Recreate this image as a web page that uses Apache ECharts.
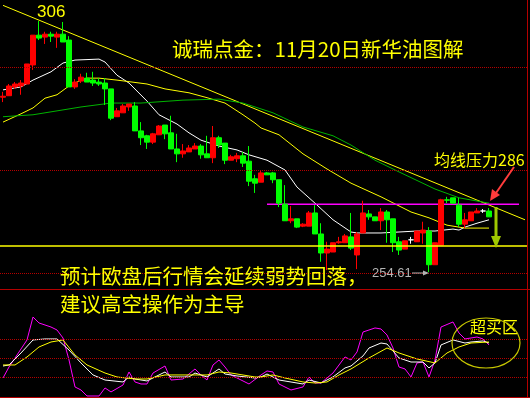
<!DOCTYPE html>
<html><head><meta charset="utf-8">
<script src="https://cdn.jsdelivr.net/npm/echarts/dist/echarts.min.js"></script>
<style>html,body{margin:0;padding:0;background:#000;overflow:hidden}#c{width:530px;height:398px;}</style>
</head><body><div id="c"></div>
<script>
// ---- data ----
const categories = Array.from({length: 88}, (_, i) => String(i + 1));
const opens = [290.4,290.7,292.5,292.7,293.1,297.0,303.1,302.7,303.3,302.7,
303.3,302.1,292.5,293.7,294.3,293.9,293.5,293.3,292.1,286.4,
287.2,288.4,288.6,283.5,282.5,281.2,282.7,284.7,283.1,279.8,
278.8,279.2,279.8,280.4,278.8,278.0,282.1,281.0,277.5,277.8,
278.4,277.3,273.7,273.0,274.9,274.9,273.5,268.5,265.1,265.5,
264.0,264.0,266.7,262.4,258.5,258.7,260.6,260.6,261.8,258.1,
262.6,266.5,265.9,265.1,266.9,265.5,260.8,259.3,261.2,260.8,
262.6,263.0,256.1,260.1,269.4,269.8,268.3,264.4,265.1,266.7,
267.1,267.1];
const closes = [290.6,292.7,293.1,293.3,297.2,303.1,302.5,303.3,302.9,303.3,
301.7,292.5,293.5,294.5,293.5,293.3,293.1,292.1,286.1,287.6,
288.6,289.0,283.5,282.1,281.2,282.9,284.5,282.9,279.8,278.8,
279.4,280.0,280.4,278.6,278.0,282.1,280.6,277.5,278.2,278.4,
276.9,273.2,272.8,274.9,274.5,273.5,268.7,265.1,265.5,263.8,
264.4,266.7,262.4,258.5,259.3,260.6,260.8,262.0,259.5,262.4,
266.7,265.9,265.1,266.9,265.3,260.6,259.1,261.0,261.2,263.0,
263.2,256.1,260.6,269.4,269.3,268.7,264.4,265.3,266.9,267.1,
267.1,265.9];
const lows = [289.4,290.7,292.1,290.9,293.1,296.0,302.1,301.3,301.7,300.5,
301.7,292.5,292.1,293.3,293.5,292.7,292.7,288.8,285.7,286.4,
287.2,287.6,283.5,280.6,279.8,280.8,282.7,281.8,279.8,277.1,
278.0,279.2,279.8,277.8,278.0,276.9,280.0,276.7,277.5,277.1,
276.1,272.2,270.8,273.0,274.5,272.8,267.9,265.1,264.6,263.6,
263.8,264.0,262.4,256.7,255.0,258.7,260.4,260.6,259.1,255.2,
262.6,265.3,265.1,263.2,260.6,258.7,258.1,259.3,260.4,260.8,
260.4,254.61,256.1,260.1,268.7,268.7,263.8,263.6,265.1,266.7,
266.7,265.9];
const highs = [291.5,293.1,293.5,293.9,297.2,303.1,306.0,303.8,303.8,303.8,
305.8,302.9,294.1,295.2,295.4,295.6,294.3,294.3,292.1,288.2,
289.0,289.0,289.4,285.3,282.7,283.1,284.7,284.7,286.6,282.9,
280.8,280.6,281.0,280.8,282.5,284.5,282.5,281.0,278.6,279.0,
279.2,280.4,274.5,275.3,275.1,275.1,273.5,272.4,268.1,265.5,
264.6,267.1,268.3,264.6,260.8,260.6,261.8,262.4,266.7,262.8,
269.2,267.3,265.9,267.7,267.3,265.5,261.8,261.0,261.8,263.0,
264.9,263.8,260.6,269.6,270.0,269.8,269.8,266.7,266.9,267.7,
267.5,267.7];

// moving averages as [candle index, price]
const maWhite = [[0,291.9],[3,292.5],[5,293.9],[8,295.6],[10,297.4],[12,298.0],[16,298.2],[17,297.6],[19,294.9],[21,293.3],[24,289.6],[26,286.8],[29,284.9],[31,283.1],[33,281.6],[35,280.8],[36,280.4],[39,279.6],[41,278.6],[44,277.5],[47,275.5],[49,272.0],[52,268.7],[55,265.3],[58,262.8],[59,262.6],[63,262.6],[69,263.0],[72,263.0],[75,263.4],[76,263.2],[77,263.8],[79,264.6],[81,265.3]];
const maYellow = [[0,285.3],[3,287.0],[5,288.2],[7,290.2],[9,290.9],[11,292.7],[13,293.9],[14,294.3],[16,294.3],[19,293.9],[24,293.1],[27,292.1],[31,291.3],[34,290.3],[37,289.2],[40,286.8],[42,285.1],[43,284.1],[46,282.7],[50,278.8],[54,275.7],[58,272.8],[63,270.0],[68,266.9],[71,265.7],[74,264.2],[77,263.6],[81,263.6]];
const maGreen = [[0,286.4],[5,286.8],[10,287.8],[13,288.4],[18,289.2],[23,289.2],[30,289.8],[36,290.0],[40,289.2],[45,287.2],[50,284.3],[55,282.5],[58,280.6],[62,277.5],[66,275.1],[72,271.6],[76,269.8],[81,268.7]];
const trendLine = [[0,309.2],[87,265.3]];
const resistLine = [[44,268.5],[86,268.5]];
const dottedLevels = [296.6, 275.5, 254.4];
const supportLevel = 259.9;

// lower indicator
const indJ = [[0,18.1],[1,35.5],[4,78.3],[5,114.7],[6,105.2],[8,98.8],[9,94.1],[10,81.4],[11,46.6],[12,3.9],[13,-0.9],[14,-10.4],[16,-10.4],[17,2.3],[18,-4.0],[20,7.0],[21,27.6],[22,11.8],[23,8.6],[24,8.6],[25,26.0],[27,37.1],[28,14.9],[30,16.5],[32,32.4],[33,22.9],[34,14.9],[35,38.7],[36,46.6],[37,35.5],[38,22.9],[41,8.6],[43,22.9],[44,29.2],[45,27.6],[46,8.6],[48,-0.9],[50,3.9],[51,19.7],[52,10.2],[53,10.2],[55,26.0],[57,51.4],[58,46.6],[59,59.3],[60,90.9],[61,94.1],[62,97.3],[63,95.7],[64,86.2],[65,65.6],[66,35.5],[67,32.4],[68,19.7],[69,41.9],[70,43.4],[71,19.7],[72,46.6],[73,98.8],[75,106.8],[76,89.3],[77,79.9],[79,83.0],[80,79.9],[81,70.4]];
const indK = [[0,37.1],[1,38.7],[3,57.7],[5,78.3],[7,79.9],[9,79.9],[11,62.4],[13,41.9],[15,22.9],[17,14.9],[20,11.8],[21,19.7],[22,16.5],[24,13.4],[26,22.9],[27,27.6],[28,19.7],[31,19.7],[32,26.0],[34,19.7],[36,32.4],[37,24.4],[39,21.3],[42,18.1],[43,19.7],[44,24.4],[46,14.9],[50,8.6],[51,14.9],[53,10.2],[55,19.7],[57,34.0],[58,37.1],[60,53.0],[61,65.6],[63,73.5],[64,71.9],[66,49.8],[68,43.4],[70,43.4],[71,34.0],[72,41.9],[73,70.4],[75,78.3],[77,73.5],[78,75.1],[80,76.7],[81,73.5]];
const indD = [[0,38.7],[2,38.7],[4,51.4],[6,67.2],[8,75.1],[10,78.3],[12,54.5],[14,38.7],[17,26.0],[19,19.7],[22,16.5],[24,16.5],[27,22.9],[31,22.9],[34,22.9],[36,27.6],[38,26.0],[42,19.7],[43,19.7],[45,22.9],[47,18.1],[50,11.8],[52,10.2],[54,11.8],[56,22.9],[58,32.4],[61,49.8],[64,65.6],[66,57.7],[69,48.2],[72,41.9],[74,57.7],[76,67.2],[78,73.5],[81,75.1]];
const indLevels = [80, 50, 20];

const titleText = '诚瑞点金：11月20日新华油图解';
const highLabel = '306';
const lowLabel = '254.61';
const maLabel = '均线压力286';
const note1 = '预计欧盘后行情会延续弱势回落，';
const note2 = '建议高空操作为主导';
const zoneLabel = '超买区';

// ---- chart ----
const chart = echarts.init(document.getElementById('c'));
const candleData = opens.map((o, i) => [o, closes[i], lows[i], highs[i]]);
const CJK = '"Noto Sans CJK SC"';
const RED = '#b40000';
const dot = {color: RED, width: 1, type: [1, 1]};

function lineSeries(name, data, color, xi) {
  return {name, type: 'line', data, xAxisIndex: xi, yAxisIndex: xi, symbol: 'none',
    connectNulls: true, silent: true, lineStyle: {color, width: 1}, z: 3};
}

const option = {
  backgroundColor: '#000',
  animation: false,
  grid: [
    {left: 0, width: 528, top: 0, height: 289},
    {left: 0, width: 528, top: 289, height: 108}
  ],
  xAxis: [
    {type: 'category', data: categories, gridIndex: 0, show: false},
    {type: 'category', data: categories, gridIndex: 1, show: false}
  ],
  yAxis: [
    {type: 'value', gridIndex: 0, min: 251.13, max: 310.3, show: false},
    {type: 'value', gridIndex: 1, min: -12, max: 159, show: false}
  ],
  series: [
    {type: 'candlestick', data: candleData, xAxisIndex: 0, yAxisIndex: 0, barWidth: 5, silent: true,
      itemStyle: {color: '#ff0000', color0: '#00ff00', borderColor: '#ff0000', borderColor0: '#00ff00',
        borderColorDoji: '#ffffff', borderWidth: 1},
      markLine: {silent: true, symbol: 'none', label: {show: false},
        data: dottedLevels.map(v => ({yAxis: v, lineStyle: dot}))
          .concat([{yAxis: supportLevel, lineStyle: {color: '#ffff00', width: 1.5, type: 'solid'}}])},
      z: 4},
    lineSeries('trend', trendLine, '#ffff00', 0),
    lineSeries('maWhite', maWhite, '#ffffff', 0),
    lineSeries('maYellow', maYellow, '#ffff00', 0),
    lineSeries('maGreen', maGreen, '#00b400', 0),
    Object.assign(lineSeries('resist', resistLine, '#ff00ff', 0), {lineStyle: {color: '#ff00ff', width: 1.5}}),
    Object.assign(lineSeries('J', indJ, '#ff00ff', 1), {
      markLine: {silent: true, symbol: 'none', label: {show: false},
        data: indLevels.map(v => ({yAxis: v, lineStyle: dot}))}}),
    lineSeries('K', indK, '#ffffff', 1),
    lineSeries('D', indD, '#ffff00', 1)
  ],
  graphic: [
    {type: 'line', shape: {x1: 527.5, y1: 0, x2: 527.5, y2: 398}, style: {stroke: RED, lineWidth: 1}, z: 10},
    {type: 'line', shape: {x1: 0, y1: 289.5, x2: 530, y2: 289.5}, style: {stroke: RED, lineWidth: 1}, z: 10},
    {type: 'line', shape: {x1: 0, y1: 397.5, x2: 530, y2: 397.5}, style: {stroke: RED, lineWidth: 1}, z: 10},
    {type: 'text', style: {text: highLabel, x: 37, y: 12, fill: '#ffff00', font: '17px "Liberation Sans"', align: 'left', verticalAlign: 'middle'}, z: 10},
    {type: 'text', style: {text: titleText, x: 172, y: 49, fill: '#ffff00', font: '20.5px ' + CJK, align: 'left', verticalAlign: 'middle'}, z: 10},
    {type: 'text', style: {text: maLabel, x: 434, y: 160, fill: '#ffff00', font: '16px ' + CJK, align: 'left', verticalAlign: 'middle'}, z: 10},
    {type: 'text', style: {text: lowLabel, x: 372, y: 273, fill: '#b4b4b4', font: '13px "Liberation Sans"', align: 'left', verticalAlign: 'middle'}, z: 10},
    {type: 'line', shape: {x1: 412, y1: 273, x2: 425, y2: 273}, style: {stroke: '#b4b4b4', lineWidth: 1}, z: 10},
    {type: 'polygon', shape: {points: [[429, 273], [423, 270.5], [423, 275.5]]}, style: {fill: '#b4b4b4'}, z: 10},
    {type: 'text', style: {text: note1, x: 60, y: 276, fill: '#ffff00', font: '20.5px ' + CJK, align: 'left', verticalAlign: 'middle'}, z: 10},
    {type: 'text', style: {text: note2, x: 60, y: 304, fill: '#ffff00', font: '20.5px ' + CJK, align: 'left', verticalAlign: 'middle'}, z: 10},
    {type: 'text', style: {text: zoneLabel, x: 470, y: 327, fill: '#ffff00', font: '16px ' + CJK, align: 'left', verticalAlign: 'middle'}, z: 10},
    {type: 'ellipse', shape: {cx: 486, cy: 343, rx: 34, ry: 25}, style: {stroke: '#c8c800', lineWidth: 1.2, fill: null}, z: 10},
    // red pointer arrow
    {type: 'line', shape: {x1: 514, y1: 167, x2: 496, y2: 193}, style: {stroke: '#ff3c3c', lineWidth: 2}, z: 10},
    {type: 'polygon', shape: {points: [[490, 201], [500, 195], [492, 189]]}, style: {fill: '#ff3c3c'}, z: 10},
    // down arrow
    {type: 'rect', shape: {x: 494.5, y: 207, width: 3, height: 30}, style: {fill: '#a0c800'}, z: 10},
    {type: 'polygon', shape: {points: [[491, 236], [501, 236], [496, 248]]}, style: {fill: '#a0c800'}, z: 10}
  ]
};
chart.setOption(option);
</script></body></html>
